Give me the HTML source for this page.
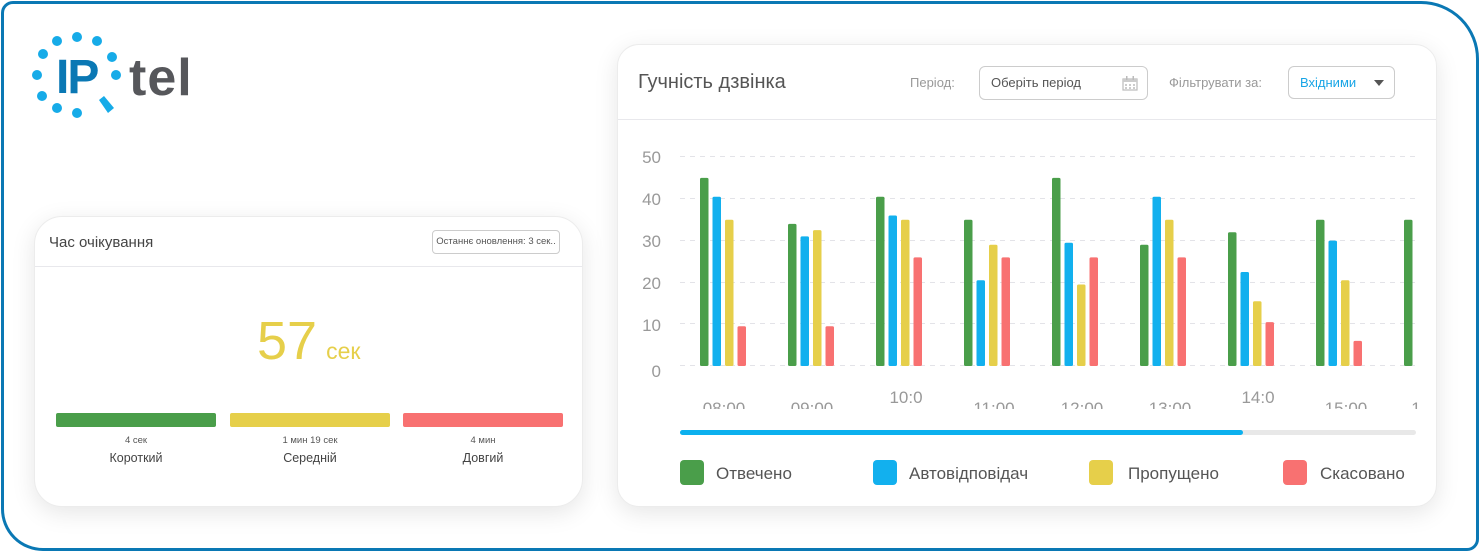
<!DOCTYPE html>
<html><head><meta charset="utf-8"><style>
*{margin:0;padding:0;box-sizing:border-box}
body{width:1480px;height:552px;background:#fff;position:relative;overflow:hidden;font-family:"Liberation Sans","DejaVu Sans",sans-serif}
.frame{position:absolute;left:1px;top:1px;width:1478px;height:550px;border:3px solid #0a78b4;border-radius:12px 58px 12px 42px}
.abs{position:absolute;white-space:nowrap}
.card{position:absolute;background:#fff;box-shadow:0 6px 24px rgba(0,0,0,0.10);border:1px solid #ececec}
</style></head><body>
<div class="frame"></div>

<!-- logo -->
<svg class="abs" style="left:0;top:0" width="220" height="130">
<g fill="#16abe8">
<circle cx="77" cy="37" r="5"/><circle cx="57" cy="41" r="5"/><circle cx="97" cy="41" r="5"/>
<circle cx="43" cy="54" r="5"/><circle cx="112" cy="57" r="5"/><circle cx="37" cy="75" r="5"/>
<circle cx="116" cy="75" r="5"/><circle cx="42" cy="96" r="5"/><circle cx="57" cy="108" r="5"/>
<circle cx="77" cy="113" r="5"/>
<path d="M99 100 L104 96 L114 108 L108 113 Z"/>
</g>
<text x="56" y="93" font-family="Liberation Sans" font-weight="bold" font-size="48" fill="#0a78b4" letter-spacing="-2">IP</text>
<text x="129" y="95" font-family="Liberation Sans" font-weight="bold" font-size="52" fill="#56575b" letter-spacing="1">tel</text>
</svg>

<!-- left card -->
<div class="card" style="left:34px;top:216px;width:549px;height:291px;border-radius:28px">
 <div class="abs" style="left:14px;top:17px;font-size:15px;color:#444">Час очікування</div>
 <div class="abs" style="left:397px;top:13px;width:128px;height:24px;border:1px solid #ccc;border-radius:4px;font-size:9.5px;color:#555;text-align:center;line-height:22px">Останнє оновлення: 3 сек..</div>
 <div class="abs" style="left:0;top:49px;width:547px;height:1px;background:#e8e8ec"></div>
 <div class="abs" style="left:222px;top:94px;font-size:54px;color:#e6cf4a;line-height:60px">57 <span style="font-size:23px;margin-left:-6px">сек</span></div>
 <div class="abs" style="left:21px;top:196px;width:160px;height:14px;background:#4a9e4a;border-radius:2px"></div>
 <div class="abs" style="left:195px;top:196px;width:160px;height:14px;background:#e6cf4a;border-radius:2px"></div>
 <div class="abs" style="left:368px;top:196px;width:160px;height:14px;background:#f87171;border-radius:2px"></div>
 <div class="abs" style="left:21px;top:218px;width:160px;text-align:center;font-size:9.5px;color:#555">4 сек</div>
 <div class="abs" style="left:195px;top:218px;width:160px;text-align:center;font-size:9.5px;color:#555">1 мин 19 сек</div>
 <div class="abs" style="left:368px;top:218px;width:160px;text-align:center;font-size:9.5px;color:#555">4 мин</div>
 <div class="abs" style="left:21px;top:234px;width:160px;text-align:center;font-size:12.5px;color:#444">Короткий</div>
 <div class="abs" style="left:195px;top:234px;width:160px;text-align:center;font-size:12.5px;color:#444">Середній</div>
 <div class="abs" style="left:368px;top:234px;width:160px;text-align:center;font-size:12.5px;color:#444">Довгий</div>
</div>

<!-- chart card -->
<div class="card" style="left:617px;top:44px;width:820px;height:463px;border-radius:22px">
 <div class="abs" style="left:20px;top:26px;font-size:20px;color:#555">Гучність дзвінка</div>
 <div class="abs" style="left:292px;top:30px;font-size:13px;color:#999">Період:</div>
 <div class="abs" style="left:361px;top:21px;width:169px;height:34px;border:1px solid #ccc;border-radius:6px;font-size:13px;color:#555;padding:8px 0 0 11px">Оберіть період
  <svg class="abs" style="left:142px;top:9px" width="16" height="15"><rect x="1" y="3" width="14" height="11" fill="none" stroke="#bbb" stroke-width="1.2"/><rect x="1" y="3" width="14" height="3" fill="#ccc"/><rect x="4" y="0" width="1.5" height="4" fill="#bbb"/><rect x="10.5" y="0" width="1.5" height="4" fill="#bbb"/><g fill="#ccc"><rect x="3" y="8" width="2" height="2"/><rect x="7" y="8" width="2" height="2"/><rect x="11" y="8" width="2" height="2"/><rect x="3" y="11" width="2" height="2"/><rect x="7" y="11" width="2" height="2"/><rect x="11" y="11" width="2" height="2"/></g></svg>
 </div>
 <div class="abs" style="left:551px;top:30px;font-size:13px;color:#999">Фільтрувати за:</div>
 <div class="abs" style="left:670px;top:21px;width:107px;height:33px;border:1px solid #ccc;border-radius:6px;font-size:13px;color:#17a5e6;padding:8px 0 0 11px">Вхідними
  <div class="abs" style="left:85px;top:13px;width:0;height:0;border-left:5px solid transparent;border-right:5px solid transparent;border-top:6px solid #555"></div>
 </div>
 <div class="abs" style="left:0;top:74px;width:818px;height:1px;background:#e8e8ec"></div>
</div>

<svg class="abs" style="left:0;top:0" width="1480" height="552" font-family="Liberation Sans, sans-serif">
<defs><clipPath id="c"><rect x="620" y="120" width="810" height="289"/></clipPath></defs>
<g stroke="#e3e3e8" stroke-dasharray="5,5" stroke-width="1">
<line x1="680" y1="156.5" x2="1416" y2="156.5"/><line x1="680" y1="198.5" x2="1416" y2="198.5"/>
<line x1="680" y1="240.5" x2="1416" y2="240.5"/><line x1="680" y1="282.5" x2="1416" y2="282.5"/>
<line x1="680" y1="323.5" x2="1416" y2="323.5"/><line x1="680" y1="365.5" x2="1416" y2="365.5"/>
</g>
<g fill="#999" font-size="17" text-anchor="end">
<text x="661" y="163">50</text><text x="661" y="205">40</text><text x="661" y="247">30</text>
<text x="661" y="289">20</text><text x="661" y="331">10</text><text x="661" y="377">0</text>
</g>
<g id="bars"></g>
<g clip-path="url(#c)" fill="#999" font-size="17" text-anchor="middle">
<text x="724" y="414">08:00</text><text x="812" y="414">09:00</text><text x="906" y="403">10:0</text>
<text x="994" y="414">11:00</text><text x="1082" y="414">12:00</text><text x="1170" y="414">13:00</text>
<text x="1258" y="403">14:0</text><text x="1346" y="414">15:00</text><text x="1416" y="414">1</text>
</g>
<rect x="680" y="430" width="736" height="5" rx="2.5" fill="#e8e8e8"/>
<rect x="680" y="430" width="563" height="5" rx="2.5" fill="#0cb0ee"/>
<rect x="680" y="460" width="24" height="25" rx="4" fill="#4a9e4a"/>
<rect x="873" y="460" width="24" height="25" rx="4" fill="#12b0ee"/>
<rect x="1089" y="460" width="24" height="25" rx="4" fill="#e6cf4a"/>
<rect x="1283" y="460" width="24" height="25" rx="4" fill="#f87171"/>
<g fill="#555" font-size="17">
<text x="716" y="479">Отвечено</text><text x="909" y="479">Автовідповідач</text>
<text x="1128" y="479">Пропущено</text><text x="1320" y="479">Скасовано</text>
</g>
</svg>
<script>
var d=[[45,40.5,35,9.5],[34,31,32.5,9.5],[40.5,36,35,26],[35,20.5,29,26],[45,29.5,19.5,26],[29,40.5,35,26],[32,22.5,15.5,10.5],[35,30,20.5,6],[35]];
var c=["#4a9e4a","#12b0ee","#e6cf4a","#f87171"],s="";
d.forEach(function(g,i){g.forEach(function(v,j){var x=700+i*88+j*12.5,h=v*4.18;
s+='<rect x="'+x+'" y="'+(366-h)+'" width="8.5" height="'+h+'" rx="1.5" fill="'+c[j]+'"/>';});});
document.getElementById("bars").innerHTML=s;
</script>
</body></html>
